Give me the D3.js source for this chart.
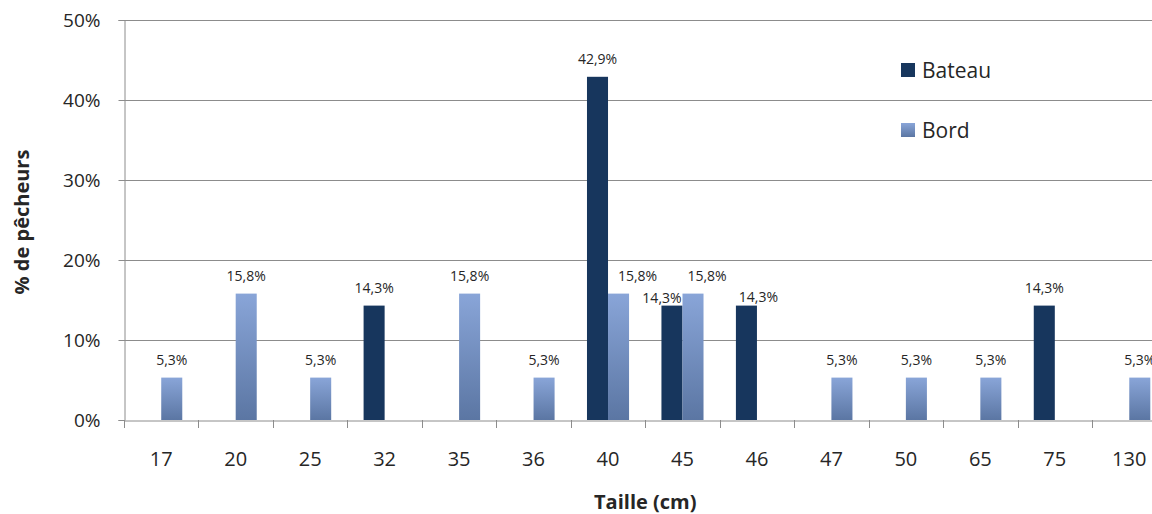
<!DOCTYPE html>
<html>
<head>
<meta charset="utf-8">
<script src="https://cdn.jsdelivr.net/npm/d3@7"></script>
<style>
  html, body { margin: 0; padding: 0; background: #ffffff; }
  svg { display: block; }
</style>
</head>
<body>
<svg id="chart" width="1152" height="514"></svg>
<script>
const categories = ["17","20","25","32","35","36","40","45","46","47","50","65","75","130"];
const series = ["Bateau", "Bord"];
const bateauValues = [0, 0, 0, 14.3, 0, 0, 42.9, 14.3, 14.3, 0, 0, 0, 14.3, 0];
const bordValues   = [5.3, 15.8, 5.3, 0, 15.8, 5.3, 15.8, 15.8, 0, 5.3, 5.3, 5.3, 0, 5.3];
const yTicks = [0, 10, 20, 30, 40, 50];
const xTitle = "Taille (cm)";
const yTitle = "% de pêcheurs";

(function () {
// manual label nudges (like the reference's moved labels)
const labelNudge = { "40|Bord": [19, 0], "45|Bateau": [-10, 10], "45|Bord": [14, 0], "46|Bateau": [12, 9] };

const svg = d3.select("#chart");
const mLeft = 124, mRight = 1166.5, mTop = 20, mBottom = 420;
const font = "'Open Sans', 'Liberation Sans', sans-serif";

const defs = svg.append("defs");
const grad = defs.append("linearGradient").attr("id", "bordGrad")
  .attr("x1", 0).attr("y1", 0).attr("x2", 0).attr("y2", 1);
grad.append("stop").attr("offset", "0%").attr("stop-color", "#89a5d8");
grad.append("stop").attr("offset", "100%").attr("stop-color", "#5b76a3");

const x = d3.scaleBand().domain(categories).range([mLeft, mRight]).paddingInner(0).paddingOuter(0);
const groupW = x.bandwidth() * 0.565;
const x1 = d3.scaleBand().domain(series).range([0, groupW]);
const y = d3.scaleLinear().domain([0, 50]).range([mBottom, mTop]);

// gridlines
svg.append("g").selectAll("line").data(yTicks.filter(t => t > 0)).join("line")
  .attr("x1", mLeft).attr("x2", mRight)
  .attr("y1", d => Math.round(y(d)) + 0.5).attr("y2", d => Math.round(y(d)) + 0.5)
  .attr("stroke", "#8c8c8c").attr("stroke-width", 1);

// y axis
const yAxis = d3.axisLeft(y).tickValues(yTicks).tickFormat(d => d + "%").tickSize(6).tickPadding(18);
const gy = svg.append("g").attr("transform", `translate(${mLeft + 0.5},0)`).call(yAxis);
gy.select(".domain").attr("stroke", "#8c8c8c");
gy.selectAll(".tick line").attr("stroke", "#8c8c8c");
gy.selectAll(".tick text").attr("font-family", font).attr("font-size", 19).attr("fill", "#262626")
  .attr("dy", "0.36em");

// x axis
const xAxis = d3.axisBottom(x).tickSize(0).tickPadding(0);
const gx = svg.append("g").attr("transform", `translate(0,${mBottom + 0.5})`).call(xAxis);
gx.select(".domain").attr("stroke", "#8c8c8c");
gx.selectAll(".tick text").attr("font-family", font).attr("font-size", 20).attr("fill", "#262626")
  .attr("y", 45).attr("dy", 0);
// band boundary ticks
svg.append("g").selectAll("line").data(categories.map((c, i) => i).concat([categories.length])).join("line")
  .attr("x1", i => Math.round(mLeft + i * x.step()) + 0.5)
  .attr("x2", i => Math.round(mLeft + i * x.step()) + 0.5)
  .attr("y1", mBottom).attr("y2", mBottom + 8)
  .attr("stroke", "#8c8c8c");

// bars
const rows = categories.map((c, i) => ({ cat: c, vals: [
  { s: "Bateau", v: bateauValues[i] }, { s: "Bord", v: bordValues[i] } ] }));
const groups = svg.append("g").selectAll("g").data(rows).join("g")
  .attr("transform", d => `translate(${x(d.cat) + (x.bandwidth() - groupW) / 2},0)`);
groups.selectAll("rect").data(d => d.vals.filter(o => o.v > 0)).join("rect")
  .attr("x", d => x1(d.s)).attr("width", x1.bandwidth())
  .attr("y", d => y(d.v)).attr("height", d => y(0) - y(d.v))
  .attr("fill", d => d.s === "Bateau" ? "#17365d" : "url(#bordGrad)");

// labels
const fmt = v => d3.format(".1f")(v).replace(".", ",") + "%";
groups.each(function(row) {
  d3.select(this).selectAll("text").data(row.vals.filter(o => o.v > 0)).join("text")
    .attr("x", d => x1(d.s) + x1.bandwidth() / 2 + ((labelNudge[row.cat + "|" + d.s] || [0, 0])[0]))
    .attr("y", d => y(d.v) - 13 + ((labelNudge[row.cat + "|" + d.s] || [0, 0])[1]))
    .attr("text-anchor", "middle")
    .attr("font-family", font).attr("font-size", 14).attr("fill", "#262626")
    .text(d => fmt(d.v));
});

// axis titles
svg.append("text").attr("x", (mLeft + mRight) / 2).attr("y", 509).attr("text-anchor", "middle")
  .attr("font-family", font).attr("font-weight", "bold").attr("font-size", 20).attr("fill", "#262626")
  .text(xTitle);
svg.append("text").attr("transform", `translate(29,${(mTop + mBottom) / 2 + 2}) rotate(-90)`)
  .attr("text-anchor", "middle")
  .attr("font-family", font).attr("font-weight", "bold").attr("font-size", 20).attr("fill", "#262626")
  .text(yTitle);

// legend
const legend = svg.append("g").selectAll("g").data(series).join("g")
  .attr("transform", (d, i) => `translate(901,${63 + i * 60})`);
legend.append("rect").attr("width", 14).attr("height", 14)
  .attr("fill", d => d === "Bateau" ? "#17365d" : "url(#bordGrad)");
legend.append("text").attr("x", 21).attr("y", 14.5)
  .attr("font-family", font).attr("font-size", 21).attr("fill", "#262626")
  .text(d => d);
})();
</script>
</body>
</html>
